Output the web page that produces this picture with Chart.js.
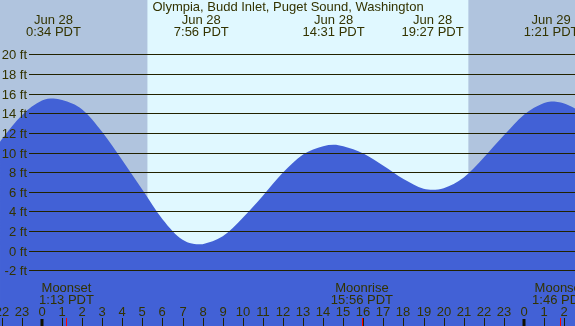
<!DOCTYPE html>
<html>
<head>
<meta charset="utf-8">
<script src="https://cdn.jsdelivr.net/npm/chart.js@4"></script>
<style>
  html, body { margin: 0; padding: 0; background: #b0c4de; overflow: hidden; }
  canvas { display: block; }
</style>
</head>
<body>
<canvas id="tideChart" width="575" height="326"></canvas>
<script>
// tide height (ft), hours from midnight Jun 28
var tideHours = [-2.09, -2, -1, 0, 0.57, 1, 2, 3, 4, 5, 6, 7, 7.93, 8, 9, 10, 11, 12, 13, 14, 14.52, 15,
    16, 17, 18, 19, 19.45, 20, 21, 22, 23, 24, 25, 25.35, 26, 26.54];
var tideFeet = [11.1, 11.35, 13.8, 15.3, 15.5, 15.35, 14.4, 12.1, 9.2, 6.2, 3.2, 1.1, 0.63, 0.65, 1.45, 3.35, 5.6, 7.95, 9.8, 10.65, 10.8, 10.65,
    9.9, 8.65, 7.3, 6.3, 6.2, 6.35, 7.45, 9.5, 11.75, 13.85, 15.05, 15.2, 15.0, 14.5];

var extremeHours = [0.57, 7.93, 14.52, 19.45, 25.35];
var extremeDays = ['Jun 28', 'Jun 28', 'Jun 28', 'Jun 28', 'Jun 29'];
var extremeTimes = ['0:34 PDT', '7:56 PDT', '14:31 PDT', '19:27 PDT', '1:21 PDT'];

var moonHours = [1.22, 15.93, 25.77];
var moonEvents = ['Moonset', 'Moonrise', 'Moonset'];
var moonTimes = ['1:13 PDT', '15:56 PDT', '1:46 PDT'];

var sunrise = 5.25;
var sunset = 21.23;

var gridFeet = [-2, 0, 2, 4, 6, 8, 10, 12, 14, 16, 18, 20];
var tickHours = [-2, -1, 0, 1, 2, 3, 4, 5, 6, 7, 8, 9, 10, 11, 12, 13, 14, 15, 16, 17, 18, 19, 20, 21, 22, 23, 24, 25, 26];

var title = 'Olympia, Budd Inlet, Puget Sound, Washington';

document.addEventListener('DOMContentLoaded', function () {
    var FONT = '13px "Liberation Sans"';
    var TEXT = '#333300';

    var skyPlugin = {
        id: 'sky',
        beforeDatasetsDraw: function (chart) {
            var ctx = chart.ctx, x = chart.scales.x, a = chart.chartArea;
            ctx.save();
            ctx.fillStyle = '#b0c4de';
            ctx.fillRect(a.left, a.top, a.right - a.left, a.bottom - a.top);
            var x0 = x.getPixelForValue(sunrise), x1 = x.getPixelForValue(sunset);
            ctx.fillStyle = '#e0f8ff';
            ctx.fillRect(x0, a.top, x1 - x0, a.bottom - a.top);
            ctx.restore();
        }
    };

    var labelPlugin = {
        id: 'labels',
        afterDatasetsDraw: function (chart) {
            var ctx = chart.ctx, x = chart.scales.x, y = chart.scales.y, a = chart.chartArea;
            ctx.save();
            ctx.font = FONT;
            ctx.fillStyle = TEXT;
            ctx.textBaseline = 'alphabetic';

            // height grid
            ctx.strokeStyle = '#222200';
            ctx.lineWidth = 1;
            ctx.textAlign = 'right';
            gridFeet.forEach(function (f) {
                var py = Math.round(y.getPixelForValue(f)) + 0.5;
                ctx.beginPath();
                ctx.moveTo(29, py);
                ctx.lineTo(a.right, py);
                ctx.stroke();
                ctx.fillText(f + ' ft', 27, py + 4.5);
            });

            // title and high/low times
            ctx.textAlign = 'center';
            ctx.fillText(title, 288, 11);
            extremeHours.forEach(function (h, i) {
                var px = x.getPixelForValue(h);
                ctx.fillText(extremeDays[i], px, 23.5);
                ctx.fillText(extremeTimes[i], px, 36);
            });

            // moon events
            moonHours.forEach(function (h, i) {
                var px = x.getPixelForValue(h);
                ctx.fillText(moonEvents[i], px, 292);
                ctx.fillText(moonTimes[i], px, 304);
            });

            // hour axis
            tickHours.forEach(function (h) {
                var px = Math.round(x.getPixelForValue(h));
                var hr = ((h % 24) + 24) % 24;
                ctx.fillStyle = TEXT;
                ctx.fillText(String(hr), px, 316);
                if (hr === 0) {
                    ctx.fillStyle = '#111100';
                    ctx.fillRect(px - 1.5, 319, 3, 7);
                } else {
                    ctx.fillStyle = '#222200';
                    ctx.fillRect(px, 318, 1, 8);
                }
            });
            ctx.fillStyle = '#ff0000';
            moonHours.forEach(function (h) {
                var px = Math.round(x.getPixelForValue(h));
                ctx.fillRect(px, 318, 1, 8);
            });
            ctx.restore();
        }
    };

    var ctx = document.getElementById('tideChart').getContext('2d');
    new Chart(ctx, {
        type: 'line',
        data: {
            datasets: [{
                data: tideHours.map(function (h, i) { return { x: h, y: tideFeet[i] }; }),
                fill: 'start',
                backgroundColor: '#4261d6',
                borderWidth: 0,
                pointRadius: 0,
                cubicInterpolationMode: 'monotone'
            }]
        },
        options: {
            responsive: false,
            animation: false,
            layout: { padding: 0 },
            scales: {
                x: { type: 'linear', display: false, min: -2.091, max: 26.54 },
                y: { display: false, min: -7.70, max: 25.56 }
            },
            plugins: { legend: { display: false }, tooltip: { enabled: false } }
        },
        plugins: [skyPlugin, labelPlugin]
    });
});
</script>
</body>
</html>
